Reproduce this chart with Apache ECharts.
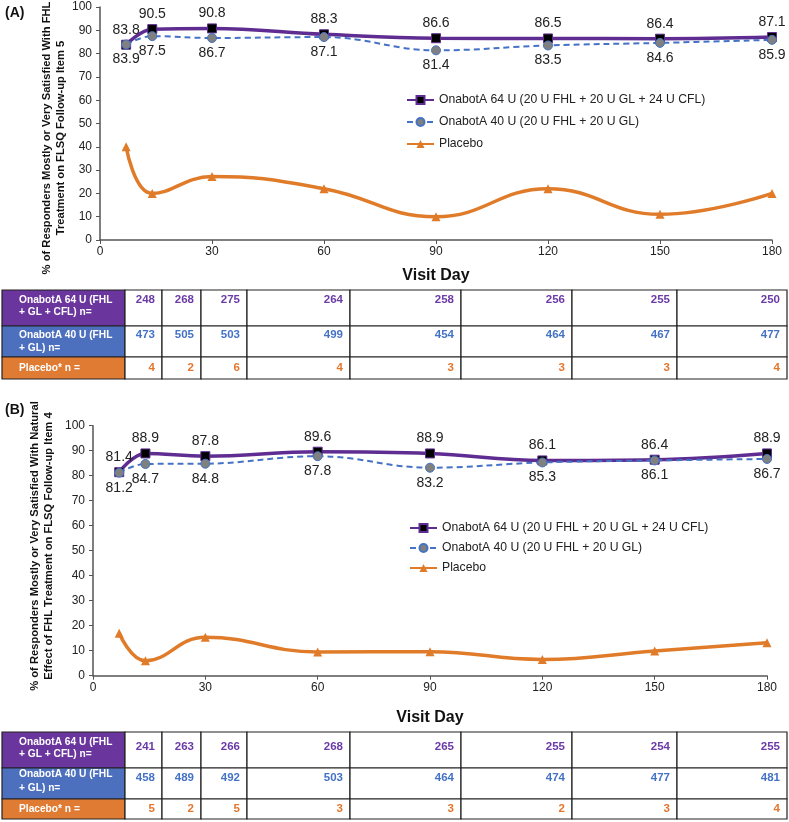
<!DOCTYPE html>
<html><head><meta charset="utf-8">
<script src="https://cdn.jsdelivr.net/npm/echarts@6/dist/echarts.min.js"></script>
<style>html,body{margin:0;padding:0;background:#fff}#c{width:789px;height:822px}</style>
</head><body><div id="c"></div>
<script>
// ---- data ----
const days = [7, 14, 30, 60, 90, 120, 150, 180];
const seriesNames = ['OnabotA 64 U (20 U FHL + 20 U GL + 24 U CFL)', 'OnabotA 40 U (20 U FHL + 20 U GL)', 'Placebo'];
const a64 = [83.8, 90.5, 90.8, 88.3, 86.6, 86.5, 86.4, 87.1];
const a40 = [83.9, 87.5, 86.7, 87.1, 81.4, 83.5, 84.6, 85.9];
const aPl = [40, 20, 27.2, 22, 10, 22, 11, 20];
const b64 = [81.4, 88.9, 87.8, 89.6, 88.9, 86.1, 86.4, 88.9];
const b40 = [81.2, 84.7, 84.8, 87.8, 83.2, 85.3, 86.1, 86.7];
const bPl = [17, 6, 15.4, 9.5, 9.6, 6.5, 9.9, 13.2];
const nA64 = [248, 268, 275, 264, 258, 256, 255, 250];
const nA40 = [473, 505, 503, 499, 454, 464, 467, 477];
const nAPl = [4, 2, 6, 4, 3, 3, 3, 4];
const nB64 = [241, 263, 266, 268, 265, 255, 254, 255];
const nB40 = [458, 489, 492, 503, 464, 474, 477, 481];
const nBPl = [5, 2, 5, 3, 3, 2, 3, 4];
const rowHeaders = [['OnabotA 64 U (FHL', '+ GL + CFL) n='], ['OnabotA 40 U (FHL', '+ GL) n='], ['Placebo* n =']];
const titleA = ['% of Responders Mostly or Very Satisfied With FHL', 'Treatment on FLSQ Follow-up Item 5'];
const titleB = ['% of Responders Mostly or Very Satisfied With Natural', 'Effect of FHL Treatment on FLSQ Follow-up Item 4'];
const xLabel = 'Visit Day';

// ---- style ----
const FONT = '"Liberation Sans", Arial, sans-serif';
const PURPLE = '#5f2d91', BLUE = '#4472c4', ORANGE = '#e07b2a', GREY = '#808080';
const HEAD_FILL = ['#6a359c', '#4d70be', '#df7b33'];
const NUM_COL = ['#6b3aa6', '#4472c4', '#e4762c'];
const colEdges = [2, 125, 162, 201, 247, 350, 461, 572, 677, 787];

const pair = arr => arr.map((v, i) => [days[i], v]);

function mkSeries(idx, v64, v40, vPl) {
  const lbl = (pos) => ({ show: true, position: pos, distance: 3, fontSize: 14, color: '#222', fontFamily: FONT });
  return [
    { name: seriesNames[0], type: 'line', xAxisIndex: idx, yAxisIndex: idx, data: pair(v64), smooth: 0.4,
      symbol: 'rect', symbolSize: 9, lineStyle: { color: PURPLE, width: 3.5 },
      itemStyle: { color: '#000', borderColor: PURPLE, borderWidth: 1 }, label: lbl('top'), z: 3 },
    { name: seriesNames[1], type: 'line', xAxisIndex: idx, yAxisIndex: idx, data: pair(v40), smooth: 0.4,
      symbol: 'circle', symbolSize: 9, lineStyle: { color: BLUE, width: 2, type: [6, 4] },
      itemStyle: { color: GREY, borderColor: BLUE, borderWidth: 1 }, label: lbl('bottom'), z: 4 },
    { name: seriesNames[2], type: 'line', xAxisIndex: idx, yAxisIndex: idx, data: pair(vPl), smooth: 0.45,
      symbol: 'triangle', symbolSize: 9, lineStyle: { color: ORANGE, width: 3.5 },
      itemStyle: { color: ORANGE }, z: 2 }
  ];
}

function mkX(idx, gap) {
  return { type: 'value', gridIndex: idx, min: 0, max: 180, interval: 30,
    name: xLabel, nameLocation: 'middle', nameGap: gap,
    nameTextStyle: { fontSize: 16, fontWeight: 'bold', color: '#111', fontFamily: FONT },
    axisLine: { lineStyle: { color: '#555', width: 1.5 } },
    axisTick: { show: true, length: 4, lineStyle: { color: '#555' } },
    axisLabel: { fontSize: 12, color: '#222', margin: 6, fontFamily: FONT },
    splitLine: { show: false } };
}
function mkY(idx) {
  return { type: 'value', gridIndex: idx, min: 0, max: 100, interval: 10,
    axisLine: { show: true, lineStyle: { color: '#555', width: 1.5 } },
    axisTick: { show: true, length: 4, lineStyle: { color: '#555' } },
    axisLabel: { fontSize: 12, color: '#222', margin: 8, fontFamily: FONT },
    splitLine: { show: false } };
}

function tableGraphics(t, rows) {
  const g = [];
  let y = t.top;
  rows.forEach((vals, r) => {
    const h = t.rows[r];
    g.push({ type: 'rect', shape: { x: colEdges[0], y: y, width: colEdges[1] - colEdges[0], height: h },
      style: { fill: HEAD_FILL[r], stroke: '#222', lineWidth: 1.2 } });
    rowHeaders[r].forEach((line, li) => {
      g.push({ type: 'text', x: 19, y: y + t.headY[r][li],
        style: { text: line, fill: '#fff', font: 'bold 10.2px ' + FONT, textAlign: 'left', textVerticalAlign: 'middle' } });
    });
    vals.forEach((v, c) => {
      const x0 = colEdges[c + 1], x1 = colEdges[c + 2];
      g.push({ type: 'rect', shape: { x: x0, y: y, width: x1 - x0, height: h },
        style: { fill: '#fff', stroke: '#222', lineWidth: 1.2 } });
      g.push({ type: 'text', x: x1 - 7, y: y + t.numY[r],
        style: { text: String(v), fill: NUM_COL[r], font: 'bold 11.5px ' + FONT, textAlign: 'right', textVerticalAlign: 'middle' } });
    });
    y += h;
  });
  return g;
}

const tableA = { top: 290, rows: [36, 31, 22], numY: [10, 9, 11], headY: [[10, 22], [9, 22], [11]] };
const tableB = { top: 732, rows: [36, 31, 20], numY: [15, 10, 10], headY: [[10, 22], [6, 20], [10]] };

const graphics = [
  { type: 'text', x: 5, y: 13, style: { text: '(A)', font: 'bold 14px ' + FONT, fill: '#111', textVerticalAlign: 'middle' } },
  { type: 'text', x: 5, y: 410, style: { text: '(B)', font: 'bold 14px ' + FONT, fill: '#111', textVerticalAlign: 'middle' } },
  { type: 'text', x: 54, y: 138, rotation: Math.PI / 2,
    style: { text: titleA.join('\n'), font: 'bold 11.2px ' + FONT, fill: '#111', textAlign: 'center', textVerticalAlign: 'middle', lineHeight: 14 } },
  { type: 'text', x: 42, y: 546, rotation: Math.PI / 2,
    style: { text: titleB.join('\n'), font: 'bold 11.2px ' + FONT, fill: '#111', textAlign: 'center', textVerticalAlign: 'middle', lineHeight: 14 } },
  ...tableGraphics(tableA, [nA64, nA40, nAPl]),
  ...tableGraphics(tableB, [nB64, nB40, nBPl])
];

const chart = echarts.init(document.getElementById('c'));
chart.setOption({
  animation: false,
  textStyle: { fontFamily: FONT },
  grid: [
    { left: 100, right: 17, top: 7, height: 233 },
    { left: 93, right: 22, top: 425.7, height: 250 }
  ],
  xAxis: [mkX(0, 28), mkX(1, 34)],
  yAxis: [mkY(0), mkY(1)],
  legend: [
    { left: 401, top: 89, orient: 'vertical', itemGap: 10, itemWidth: 27, itemHeight: 10,
      textStyle: { fontSize: 12.2, color: '#222' }, data: seriesNames, selectedMode: false },
    { left: 404, top: 517, orient: 'vertical', itemGap: 8, itemWidth: 27, itemHeight: 10,
      textStyle: { fontSize: 12.2, color: '#222' }, data: seriesNames, selectedMode: false }
  ],
  series: [...mkSeries(0, a64, a40, aPl), ...mkSeries(1, b64, b40, bPl)],
  graphic: graphics
});
</script>
</body></html>
